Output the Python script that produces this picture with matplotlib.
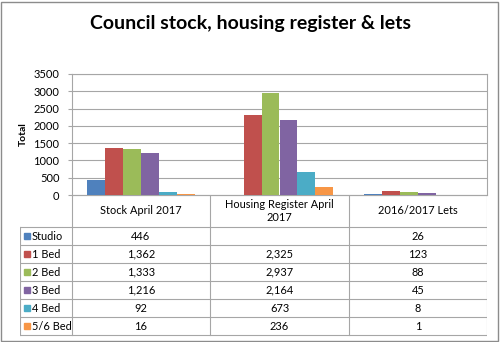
import numpy as np
import matplotlib.pyplot as plt
from matplotlib.patches import Rectangle

plt.rcParams['font.family'] = ['Lato', 'DejaVu Sans']

categories = ['Stock April 2017', 'Housing Register April\n2017', '2016/2017 Lets']
series = ['Studio', '1 Bed', '2 Bed', '3 Bed', '4 Bed', '5/6 Bed']
values = [
    [446, np.nan, 26],
    [1362, 2325, 123],
    [1333, 2937, 88],
    [1216, 2164, 45],
    [92, 673, 8],
    [16, 236, 1],
]
colors = ['#4F81BD', '#C0504D', '#9BBB59', '#8064A2', '#4BACC6', '#F79646']
yticks = [0, 500, 1000, 1500, 2000, 2500, 3000, 3500]

W, H = 500, 342
fig = plt.figure(figsize=(W / 100, H / 100), dpi=100)

def px(x0, y0, x1, y1):
    return [x0 / W, 1 - y1 / H, (x1 - x0) / W, (y1 - y0) / H]

# outer border
fig.patches.append(Rectangle((1 / W, 1 / H), 497 / W, 339 / H, transform=fig.transFigure,
                             fill=False, ec='#8C8C8C', lw=1))

fig.text(250 / W, 1 - 23 / H, 'Council stock, housing register & lets',
         ha='center', va='center', fontsize=14, fontweight='bold')

grid_c = '#A6A6A6'

# chart
ax = fig.add_axes(px(72, 74, 487, 195))
n = len(series)
bw = 0.13
x = np.arange(len(categories))
for j, (name, vals) in enumerate(zip(series, values)):
    h = np.nan_to_num(np.array(vals, dtype=float))
    ax.bar(x + (j - (n - 1) / 2) * bw, h, bw, color=colors[j], zorder=3, lw=0)
ax.set_xlim(-0.5, len(categories) - 0.5)
ax.set_ylim(0, 3500)
ax.set_yticks(yticks)
ax.set_xticks([])
ax.tick_params(axis='y', labelsize=8, length=3, color=grid_c, pad=6)
ax.grid(axis='y', color=grid_c, lw=0.8, zorder=0)
for s in ax.spines.values():
    s.set_color(grid_c)
    s.set_linewidth(0.8)
ax.set_ylabel('Total', fontsize=7.5, fontweight='bold', labelpad=4)

# data table
tx = fig.add_axes(px(20, 195, 487, 337))
tx.set_xlim(20, 487)
tx.set_ylim(337, 195)
tx.axis('off')
col_edges = [72, 210, 349, 487]
row_h = 18
top_rows = 227
lk = dict(color=grid_c, lw=0.8)
for xe in col_edges:
    tx.plot([xe, xe], [195, top_rows + row_h * n], **lk)
tx.plot([20, 20], [top_rows, top_rows + row_h * n], **lk)
tx.plot([72, 487], [195, 195], **lk)
for r in range(n + 1):
    yy = top_rows + r * row_h
    tx.plot([20, 487], [yy, yy], **lk)

for i, c in enumerate(categories):
    cx = (col_edges[i] + col_edges[i + 1]) / 2
    tx.text(cx, (195 + top_rows) / 2, c, ha='center', va='center', fontsize=7.9,
            linespacing=1.3)

for j, name in enumerate(series):
    cy = top_rows + j * row_h + row_h / 2
    tx.add_patch(Rectangle((24, cy - 3), 6, 6, color=colors[j]))
    tx.text(32, cy, name, ha='left', va='center', fontsize=7.9)
    for i in range(len(categories)):
        v = values[j][i]
        if np.isnan(v):
            continue
        cx = (col_edges[i] + col_edges[i + 1]) / 2
        tx.text(cx, cy, f'{int(v):,}', ha='center', va='center', fontsize=7.9)

fig.savefig('out.png', dpi=100)
